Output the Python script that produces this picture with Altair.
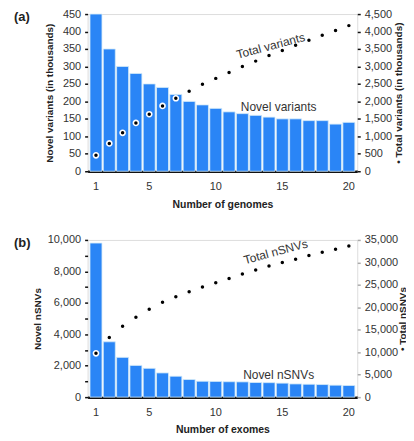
import altair as alt
import pandas as pd

# ---- data ----
n = list(range(1, 21))
novel_variants = [450, 350, 300, 280, 250, 240, 220, 200, 190, 180,
                  170, 165, 160, 155, 150, 150, 145, 145, 135, 140]
total_variants = [456, 798, 1100, 1385, 1633, 1871, 2089, 2289, 2488, 2659,
                  2830, 3000, 3153, 3314, 3457, 3609, 3751, 3894, 4027, 4169]
novel_nsnvs = [9800, 3520, 2530, 2020, 1830, 1540, 1330, 1120, 1010, 1000,
               980, 970, 930, 920, 890, 840, 820, 800, 760, 740]
total_nsnvs = [9750, 13290, 15800, 17800, 19570, 21120, 22370, 23480, 24510, 25470,
               26430, 27390, 28280, 29170, 29980, 30720, 31530, 32270, 32930, 33670]

FONT = "Liberation Sans"
BLUE = "#2a85f6"
W, H = 271, 158

df_a = pd.DataFrame({"n": n, "novel": novel_variants, "total": total_variants})
df_b = pd.DataFrame({"n": n, "novel": novel_nsnvs, "total": total_nsnvs})
one = pd.DataFrame({"k": [0]})


def panel(df, xtitle, ltitle, rtitle, ldomain, rdomain, lvalues, lexpr, rvalues,
          tag, t_total, t_total_pos, t_novel, t_novel_pos, ltpad, rtpad, rtick_color):
    xenc = alt.X("n:O", sort=n,
                 scale=alt.Scale(paddingInner=0.1, paddingOuter=0.18),
                 axis=alt.Axis(values=[1, 5, 10, 15, 20], labelAngle=0, ticks=False,
                               domainColor="#111111", domainWidth=2.5,
                               labelPadding=9, labelFontSize=11, labelColor="#333333",
                               title=xtitle, titleFontSize=10.5, titleFontWeight="bold",
                               titlePadding=8, titleColor="#222222"))
    bars = alt.Chart(df).mark_bar(color=BLUE, stroke="#d4ebf9", strokeWidth=0.8).encode(
        x=xenc,
        y=alt.Y("novel:Q", scale=alt.Scale(domain=ldomain, nice=False),
                axis=alt.Axis(values=lvalues, labelExpr=lexpr, domain=False, grid=False,
                              tickSize=3, tickWidth=1.5, tickColor="#111111",
                              labelPadding=4, labelFontSize=11, labelColor="#333333",
                              title=ltitle, titleFontSize=10, titleFontWeight="bold",
                              titlePadding=ltpad, titleColor="#222222")),
    )
    pts = alt.Chart(df).mark_point(filled=True, shape="circle", size=26, color="#000000",
                                   stroke="white", strokeWidth=1.6, opacity=1).encode(
        x=alt.X("n:O", sort=n),
        y=alt.Y("total:Q", scale=alt.Scale(domain=rdomain, nice=False),
                axis=alt.Axis(orient="right", values=rvalues,
                              labelExpr="format(datum.value, ',')", domain=False,
                              grid=False, tickSize=3, tickWidth=1.5, tickColor=rtick_color,
                              labelPadding=4, labelFontSize=11, labelColor="#333333",
                              title=rtitle, titleAngle=270, titleFontSize=10,
                              titleFontWeight="bold", titlePadding=rtpad,
                              titleColor="#222222")),
    )
    t1 = alt.Chart(one).mark_text(text=t_total, font=FONT, fontSize=12, angle=345,
                                  color="#333333").encode(
        x=alt.value(t_total_pos[0]), y=alt.value(t_total_pos[1]))
    t2 = alt.Chart(one).mark_text(text=t_novel, font=FONT, fontSize=12,
                                  color="#333333").encode(
        x=alt.value(t_novel_pos[0]), y=alt.value(t_novel_pos[1]))
    t3 = alt.Chart(one).mark_text(text=tag, font=FONT, fontSize=13, fontWeight="bold",
                                  align="left", color="#222222").encode(
        x=alt.value(-74), y=alt.value(3))
    return alt.layer(bars, pts, t1, t2, t3).resolve_scale(y="independent").properties(
        width=W, height=H)


pa = panel(df_a, "Number of genomes", "Novel variants (in thousands)",
           "• Total variants (in thousands)", [0, 450], [0, 4500],
           list(range(0, 451, 50)), "datum.label", list(range(0, 4501, 500)),
           "(a)", "Total variants", (184, 32), "Novel variants", (192, 93), 8, 12, "#111111")

pb = panel(df_b, "Number of exomes", "Novel nSNVs", "• Total nSNVs", [0, 10000],
           [0, 35000], list(range(0, 10001, 1000)),
           "datum.value % 2000 == 0 ? format(datum.value, ',') : ''",
           list(range(0, 35001, 5000)),
           "(b)", "Total nSNVs", (189, 12), "Novel nSNVs", (192, 136), 5, 10, "#aaaaaa")

chart = alt.vconcat(pa, pb, spacing=23).properties(
    padding={"left": 5, "top": -2, "right": -3, "bottom": 5}
).configure_view(stroke=None).configure(font=FONT)

chart.save("out.html", embed_options={"renderer": "svg", "actions": False})
